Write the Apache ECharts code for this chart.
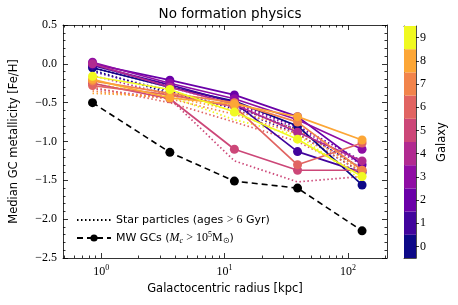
<!DOCTYPE html>
<html>
<head>
<meta charset="utf-8">
<script src="https://cdn.jsdelivr.net/npm/echarts@6/dist/echarts.min.js"></script>
<style>html,body{margin:0;padding:0;background:#fff}#c{width:458px;height:305px}</style>
</head>
<body>
<div id="c"></div>
<script>
// ---- data ----
const radii = [0.85, 3.6, 12, 39, 130];
const galaxies = [0, 1, 2, 3, 4, 5, 6, 7, 8, 9];
const galaxyColors = ['#0d0887', '#41049d', '#6a00a8', '#8f0da4', '#b12a90', '#cc4778', '#e16462', '#f2844b', '#fca636', '#f0f921'];
const gcMedian = [
  [-0.05, -0.30, -0.48, -0.80, -1.56],
  [-0.02, -0.27, -0.50, -1.13, -1.40],
  [0.00, -0.21, -0.40, -0.68, -1.30],
  [0.02, -0.25, -0.45, -0.72, -1.10],
  [0.00, -0.30, -0.52, -0.88, -1.25],
  [-0.25, -0.45, -1.10, -1.37, -1.37],
  [-0.28, -0.40, -0.55, -1.30, -1.02],
  [-0.22, -0.38, -0.50, -0.75, -1.37],
  [-0.20, -0.44, -0.52, -0.68, -0.98],
  [-0.16, -0.33, -0.62, -0.97, -1.45]
];
const starMedian = [
  [-0.08, -0.38, -0.55, -0.85, -1.35],
  [-0.10, -0.35, -0.58, -0.90, -1.40],
  [-0.05, -0.28, -0.50, -0.80, -1.25],
  [-0.05, -0.30, -0.52, -0.82, -1.30],
  [-0.15, -0.40, -0.55, -0.85, -1.35],
  [-0.32, -0.45, -1.25, -1.52, -1.45],
  [-0.30, -0.50, -0.75, -1.00, -1.42],
  [-0.35, -0.45, -0.65, -0.90, -1.40],
  [-0.38, -0.42, -0.60, -0.85, -1.38],
  [-0.25, -0.42, -0.72, -0.92, -1.50]
];
const mwRadii = [0.85, 3.6, 12, 39, 130];
const mwMedian = [-0.50, -1.14, -1.51, -1.60, -2.15];
const xMajorTicks = [1, 10, 100];
const xMinorTicks = [0.5,0.6,0.7,0.8,0.9,2,3,4,5,6,7,8,9,20,30,40,50,60,70,80,90,200];
const xMin = 0.49, xMax = 207;
const yMin = -2.5, yMax = 0.5, yStep = 0.5;

// ---- chart ----
const serif = 'Liberation Serif';
const sans = 'DejaVu Sans';
const L = Math.log10;
const chart = echarts.init(document.getElementById('c'), null, {renderer: 'canvas'});

function tickAxis(pos, vals, len, labels, line) {
  return {
    type: 'value', gridIndex: 0, position: pos, min: L(xMin), max: L(xMax),
    axisLine: {show: !!line, onZero: false, lineStyle: {color: '#000', width: 0.8}}, splitLine: {show: false},
    axisTick: {show: true, inside: true, length: len, customValues: vals.map(L), lineStyle: {color: '#000', width: 0.8}},
    axisLabel: labels ? {show: true, customValues: vals.map(L), margin: 6, fontFamily: serif, fontSize: 12, color: '#000',
      formatter: v => '10{s|' + Math.round(v) + '}', rich: {s: {fontFamily: serif, fontSize: 8, verticalAlign: 'top', padding: [0,0,8,0], color: '#000'}}} : {show: false}
  };
}

const series = [];
galaxies.forEach(g => {
  series.push({
    name: 'star' + g, type: 'line', xAxisIndex: 0, yAxisIndex: 0, symbol: 'none', silent: true,
    data: radii.map((r, j) => [r, starMedian[g][j]]),
    lineStyle: {color: galaxyColors[g], width: 1.7, type: [1.5, 2.5]}, z: 2 + g * 0.01
  });
});
galaxies.forEach(g => {
  series.push({
    name: 'gc' + g, type: 'line', xAxisIndex: 0, yAxisIndex: 0, symbol: 'circle', symbolSize: 9, silent: true,
    data: radii.map((r, j) => [r, gcMedian[g][j]]),
    itemStyle: {color: galaxyColors[g]},
    lineStyle: {color: galaxyColors[g], width: 1.7}, z: 3 + g * 0.01
  });
});
series.push({
  name: 'Star particles', type: 'line', xAxisIndex: 0, yAxisIndex: 0, symbol: 'none', showSymbol: false, data: [],
  itemStyle: {color: '#000'}, lineStyle: {color: '#000', width: 1.6, type: [1.5, 2.5]}
});
series.push({
  name: 'MW GCs', type: 'line', xAxisIndex: 0, yAxisIndex: 0, symbol: 'circle', symbolSize: 9,
  data: mwRadii.map((r, j) => [r, mwMedian[j]]),
  itemStyle: {color: '#000'}, lineStyle: {color: '#000', width: 1.6, type: [6, 4]}, z: 4
});
// colorbar
galaxies.forEach(g => {
  series.push({
    name: 'cb' + g, type: 'bar', xAxisIndex: 5, yAxisIndex: 2, stack: 'cb', barWidth: '100%', silent: true,
    data: [1], itemStyle: {color: galaxyColors[g]}
  });
});

const option = {
  animation: false,
  backgroundColor: '#fff',
  title: {text: 'No formation physics', left: 225, top: 2, textAlign: 'center',
    textStyle: {fontFamily: sans, fontSize: 13.5, fontWeight: 'normal', color: '#000'}},
  grid: [
    {left: 63, right: 71, top: 25, bottom: 47},
    {left: 404, width: 12, top: 26, height: 232}
  ],
  legend: {
    data: [{name: 'Star particles', itemStyle: {opacity: 0}}, {name: 'MW GCs'}],
    orient: 'vertical', left: 71, top: 209, itemGap: 5,
    itemWidth: 34, itemHeight: 9, selectedMode: false,
    textStyle: {fontFamily: sans, fontSize: 11, color: '#000',
      rich: {m: {fontFamily: serif, fontSize: 12}, i: {fontFamily: serif, fontStyle: 'italic', fontSize: 12},
        sub: {fontFamily: serif, fontStyle: 'italic', fontSize: 8, verticalAlign: 'bottom', padding: [6,0,0,0]},
        sup: {fontFamily: serif, fontSize: 8, verticalAlign: 'top', padding: [0,0,6,0]},
        subr: {fontFamily: serif, fontSize: 8, verticalAlign: 'bottom', padding: [6,0,0,0]}}},
    formatter: n => n === 'Star particles' ? 'Star particles (ages {m|> 6} Gyr)'
      : 'MW GCs ({i|M}{sub|c}{m| > 10}{sup|5}{m|M}{subr|⊙})'
  },
  xAxis: [
    {type: 'log', gridIndex: 0, min: xMin, max: xMax, show: false, logBase: 10},
    Object.assign(tickAxis('bottom', xMajorTicks, 5, true, true), {
      name: 'Galactocentric radius [kpc]', nameLocation: 'middle', nameGap: 24,
      nameTextStyle: {fontFamily: sans, fontSize: 11.5, color: '#000'}}),
    tickAxis('bottom', xMinorTicks, 2.5, false, false),
    tickAxis('top', xMajorTicks, 5, false, true),
    tickAxis('top', xMinorTicks, 2.5, false, false),
    {type: 'category', gridIndex: 1, data: ['cb'], axisLine: {show: true, onZero: false, lineStyle: {color: '#222', width: 0.8}},
     axisTick: {show: false}, axisLabel: {show: false}},
    {type: 'category', gridIndex: 1, position: 'top', data: ['cb'], axisLine: {show: true, onZero: false, lineStyle: {color: '#222', width: 0.8}},
     axisTick: {show: false}, axisLabel: {show: false}}
  ],
  yAxis: [
    {type: 'value', gridIndex: 0, min: yMin, max: yMax, interval: yStep, position: 'left',
     axisLine: {show: true, onZero: false, lineStyle: {color: '#000', width: 0.8}}, splitLine: {show: false},
     axisTick: {show: true, inside: true, length: 5, lineStyle: {color: '#000', width: 0.8}},
     minorTick: {show: true, splitNumber: 5, length: 2.5, lineStyle: {color: '#000', width: 0.8}},
     axisLabel: {fontFamily: serif, fontSize: 12, color: '#000', margin: 6,
       formatter: v => v.toFixed(1).replace('-', '−')},
     name: 'Median GC metallicity [Fe/H]', nameLocation: 'middle', nameGap: 43,
     nameTextStyle: {fontFamily: sans, fontSize: 11.5, color: '#000'}},
    {type: 'value', gridIndex: 0, min: yMin, max: yMax, interval: yStep, position: 'right',
     axisLine: {show: true, onZero: false, lineStyle: {color: '#000', width: 0.8}}, splitLine: {show: false},
     axisTick: {show: true, inside: true, length: 5, lineStyle: {color: '#000', width: 0.8}},
     minorTick: {show: true, splitNumber: 5, length: 2.5, lineStyle: {color: '#000', width: 0.8}},
     axisLabel: {show: false}},
    {type: 'value', gridIndex: 1, min: 0, max: 10, position: 'right',
     axisLine: {show: true, onZero: false, lineStyle: {color: '#222', width: 0.8}}, splitLine: {show: false},
     axisTick: {show: true, length: 3, customValues: galaxies.map(g => g + 0.5), lineStyle: {color: '#000', width: 0.8}},
     axisLabel: {customValues: galaxies.map(g => g + 0.5), formatter: v => String(Math.floor(v)),
       fontFamily: serif, fontSize: 12, color: '#000', margin: 4},
     name: 'Galaxy', nameLocation: 'middle', nameGap: 20, nameRotate: 90,
     nameTextStyle: {fontFamily: sans, fontSize: 11.5, color: '#000'}},
    {type: 'value', gridIndex: 1, min: 0, max: 10, position: 'left',
     axisLine: {show: true, onZero: false, lineStyle: {color: '#222', width: 0.8}}, splitLine: {show: false},
     axisTick: {show: false}, axisLabel: {show: false}}
  ],
  series: series
};
chart.setOption(option);
</script>
</body>
</html>
